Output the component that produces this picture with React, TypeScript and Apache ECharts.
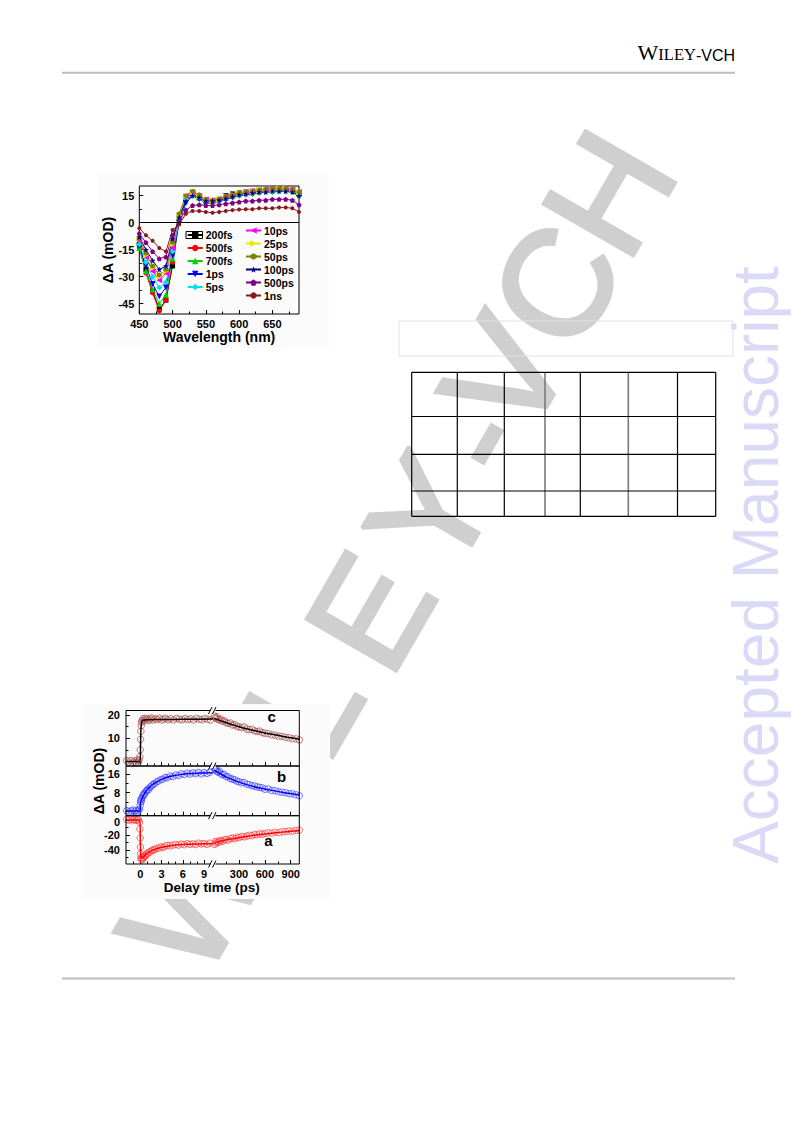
import React, { useEffect, useRef } from 'react';
import * as echarts from 'echarts';

const FONT = 'Liberation Sans';

// ---------- Figure (top): transient absorption spectra ----------
const wavelengths = [450, 460, 470, 480, 490, 500, 510, 520, 530, 540, 550, 560, 570, 580, 590, 600, 610, 620, 630, 640, 650, 660, 670, 680, 690];
const spectraNames = ['200fs', '500fs', '700fs', '1ps', '5ps', '10ps', '25ps', '50ps', '100ps', '500ps', '1ns'];
const d200fs = [-12, -26, -38, -48, -43, -24, 2, 14, 16, 14, 12, 12, 13, 15, 16, 16.5, 17, 17.5, 18, 18, 18.5, 18.5, 18.5, 18, 16];
const d500fs = [-14, -28, -39, -49, -43, -22, 4, 14, 17, 15, 13, 12.5, 13, 14.5, 15.5, 16.5, 17, 17.5, 18, 18.5, 18.5, 19, 19, 18.5, 16.5];
const d700fs = [-14, -27, -37, -45, -40, -20, 3, 14, 16, 14, 12, 12, 13, 14, 15, 16, 16.5, 17, 17.5, 18, 18, 18.5, 18.5, 18, 16];
const d1ps = [-13, -24, -34, -41, -36, -18, 0, 11, 15, 13, 11, 11, 12, 13, 14, 15, 15.5, 16, 16.5, 17, 17, 17.5, 17.5, 17, 15];
const d5ps = [-12, -22, -30, -36, -33, -16, 1, 13, 15.5, 14, 12, 12, 12.5, 14, 15, 15.5, 16, 16.5, 17, 17.5, 17.5, 18, 18, 17.5, 16];
const d10ps = [-10, -19, -27, -32, -28, -14, 4, 15, 17, 15, 13, 12.5, 13, 14.5, 15.5, 16.5, 17, 17.5, 18, 18.5, 19, 19, 19, 18.5, 17];
const d25ps = [-9, -18, -25, -30, -27, -12, 4, 15, 17, 15, 13, 12.5, 13, 14.5, 15.5, 16.5, 17, 17.5, 18, 18.5, 18.5, 19, 19, 18.5, 17];
const d50ps = [-9, -17, -24, -29, -26, -11, 5, 15, 17.5, 15.5, 13, 12.5, 13, 14.5, 15.5, 16.5, 17, 17.5, 18, 18.5, 19, 19, 19, 18.5, 17];
const d100ps = [-8, -15, -21, -26, -24, -9, 3, 12, 15, 14, 12, 12, 12.5, 13.5, 14.5, 15.5, 16, 16.5, 17, 17, 17.5, 17.5, 17.5, 17, 15];
const d500ps = [-6, -11, -16, -20, -19, -7, 1, 7, 9.5, 10, 9.5, 9.5, 10, 10.5, 11, 11.5, 12, 12, 12.5, 12.5, 13, 13, 13, 12.5, 10];
const d1ns = [-3, -7, -10, -14, -16, -4, -1, 5, 6.5, 6.5, 6, 5.5, 6, 6.5, 7, 7.3, 7.5, 7.5, 8, 8, 8, 8.5, 8.5, 8, 6];
const spectraValues = [d200fs, d500fs, d700fs, d1ps, d5ps, d10ps, d25ps, d50ps, d100ps, d500ps, d1ns];

const specXTicks = [450, 500, 550, 600, 650];
const specXMinor = [475, 525, 575, 625, 675];
const specYTicks = [-45, -30, -15, 0, 15];
const specYMinor = [-37.5, -22.5, -7.5, 7.5];

// ---------- Figure (bottom): kinetics ----------
const leftTicks = [0, 3, 6, 9];
const leftMinor = [-1, 1, 2, 4, 5, 7, 8, 10];
const rightTicks = [300, 600, 900];
const rightMinor = [150, 450, 750];
const cTicks = [0, 10, 20];
const cMinor = [5, 15];
const bTicks = [0, 8, 16];
const bMinor = [4, 12];
const aTicks = [-40, -20, 0];
const aMinor = [-50, -30, -10];

const cLeftPts = [[-1.9, 0.3], [-1.6, -0.2], [-1.3, 0.4], [-1.0, -0.4], [-0.8, 0.2], [-0.6, -0.6], [-0.4, 0.5], [-0.25, -0.3], [-0.15, 0.6], [-0.05, 2], [0, 5], [0.05, 9.5], [0.1, 13], [0.15, 15.5], [0.2, 17], [0.3, 17.8], [0.4, 18.4], [0.5, 17.5], [0.65, 18.6], [0.8, 17.9], [1.0, 18.5], [1.2, 17.7], [1.4, 18.3], [1.6, 18.8], [1.8, 17.9], [2.1, 18.4], [2.4, 18.1], [2.7, 18.7], [3.0, 17.9], [3.3, 18.3], [3.6, 18.6], [3.9, 18.0], [4.3, 18.4], [4.7, 17.9], [5.1, 18.6], [5.5, 18.2], [5.9, 18.0], [6.3, 18.5], [6.7, 18.1], [7.1, 18.4], [7.5, 17.9], [7.9, 18.6], [8.3, 18.2], [8.7, 18.0], [9.1, 18.5], [9.5, 18.2], [9.9, 17.9]];
const cLeftFit = [[-2, 0], [-0.02, 0], [0.05, 8], [0.12, 15], [0.25, 17.6], [0.5, 17.9], [1, 18], [3, 18.1], [6, 18.2], [10.2, 18.3]];
const cRightPts = [[15, 19.6], [25, 19.0], [35, 18.5], [45, 19.2], [60, 18.2], [75, 17.8], [90, 18.3], [110, 17.3], [130, 17.6], [150, 16.8], [175, 16.4], [200, 16.6], [225, 15.7], [250, 15.9], [275, 15.2], [300, 14.9], [330, 14.6], [360, 14.9], [390, 14.0], [420, 13.7], [450, 13.9], [480, 13.2], [510, 12.9], [540, 13.1], [570, 12.4], [600, 12.2], [640, 12.0], [680, 11.5], [720, 11.3], [760, 10.9], [800, 10.8], [840, 10.4], [880, 10.2], [920, 9.8], [960, 9.7], [1000, 9.3]];
const cRightFit = [[10, 18.6], [50, 18.1], [100, 17.4], [200, 16.1], [300, 15.0], [400, 14.0], [500, 13.1], [600, 12.3], [700, 11.6], [800, 10.9], [900, 10.2], [1000, 9.6]];

const bLeftPts = [[-1.9, 0.2], [-1.6, -0.3], [-1.3, 0.1], [-1.0, 0.4], [-0.8, -0.2], [-0.6, 0.3], [-0.4, -0.4], [-0.25, 0.2], [-0.1, 0.8], [0, 2.5], [0.05, 4], [0.1, 5], [0.15, 4.2], [0.2, 5.5], [0.3, 6], [0.4, 6.8], [0.5, 7.5], [0.6, 7.2], [0.75, 8.4], [0.9, 8.9], [1.05, 9.6], [1.2, 9.3], [1.4, 10.4], [1.6, 10.9], [1.8, 11.6], [2.0, 11.9], [2.3, 12.7], [2.6, 13.1], [2.9, 13.7], [3.2, 13.9], [3.5, 14.6], [3.8, 14.5], [4.2, 15.2], [4.6, 15.0], [5.0, 15.7], [5.4, 15.5], [5.8, 16.2], [6.2, 15.9], [6.6, 16.5], [7.0, 16.1], [7.4, 16.6], [7.8, 16.3], [8.2, 16.8], [8.6, 16.2], [9.0, 16.7], [9.4, 16.4], [9.8, 16.9]];
const bLeftFit = [[-2, 0], [-0.02, 0], [0.03, 3.5], [0.2, 5.2], [0.5, 7.2], [1, 9.4], [1.5, 10.9], [2, 12.1], [3, 13.8], [4, 14.9], [5, 15.6], [6, 16], [7, 16.3], [8, 16.5], [9, 16.6], [10.2, 16.7]];
const bRightPts = [[15, 18.5], [25, 17.8], [35, 18.2], [45, 17.2], [60, 16.9], [75, 17.3], [90, 16.2], [110, 15.8], [130, 15.9], [150, 15.0], [175, 14.9], [200, 14.1], [225, 13.9], [250, 13.6], [275, 13.0], [300, 12.8], [330, 12.3], [360, 12.4], [390, 11.7], [420, 11.5], [450, 11.0], [480, 10.9], [510, 10.5], [540, 10.3], [570, 10.1], [600, 9.5], [640, 9.6], [680, 9.0], [720, 8.9], [760, 8.4], [800, 8.2], [840, 8.0], [880, 7.6], [920, 7.5], [960, 7.1], [1000, 6.7]];
const bRightFit = [[10, 17.8], [50, 17], [100, 15.9], [150, 14.9], [200, 14.1], [300, 12.6], [400, 11.4], [500, 10.4], [600, 9.6], [700, 8.9], [800, 8.2], [900, 7.6], [1000, 7.0]];

const aLeftPts = [[-1.9, 0.6], [-1.6, -0.2], [-1.3, 0.4], [-1.0, 0.1], [-0.8, 0.7], [-0.6, -0.3], [-0.4, 0.5], [-0.25, 0.2], [-0.1, -3], [-0.05, -12], [0, -24], [0.03, -36], [0.06, -45], [0.1, -50], [0.15, -52.5], [0.2, -51], [0.3, -53], [0.4, -49.5], [0.5, -50.5], [0.6, -47.5], [0.75, -48], [0.9, -45], [1.05, -45.5], [1.2, -43], [1.4, -42.5], [1.6, -41], [1.8, -39.5], [2.0, -40], [2.3, -38], [2.6, -37.5], [2.9, -36], [3.2, -36.5], [3.5, -35], [3.8, -34], [4.2, -34.5], [4.6, -33.5], [5.0, -32.8], [5.4, -33.5], [5.8, -32], [6.2, -33], [6.6, -31.5], [7.0, -32.5], [7.4, -31.8], [7.8, -32.8], [8.2, -31], [8.6, -32], [9.0, -31.5], [9.4, -32.5], [9.8, -31]];
const aLeftFit = [[-2, 0], [-0.05, 0], [0.02, -30], [0.08, -48], [0.15, -51.5], [0.3, -50.5], [0.5, -48.5], [0.75, -46.5], [1, -44.5], [1.5, -41.5], [2, -39.3], [3, -36.4], [4, -34.6], [5, -33.5], [6, -32.8], [7, -32.3], [8, -32], [9, -31.8], [10.2, -31.6]];
const aRightPts = [[15, -32.5], [25, -29], [35, -31], [45, -28.5], [60, -30], [75, -28], [90, -27.5], [110, -28.5], [130, -26.5], [150, -26], [175, -27], [200, -25], [225, -24], [250, -25], [275, -23], [300, -23.5], [330, -22], [360, -22.5], [390, -21.5], [420, -20.5], [450, -21], [480, -19.5], [510, -19.8], [540, -18.5], [570, -19], [600, -18], [640, -17.2], [680, -17.5], [720, -16.5], [760, -16.8], [800, -15.8], [840, -15.5], [880, -14.7], [920, -15], [960, -14], [1000, -13.5]];
const aRightFit = [[10, -31], [50, -29.5], [100, -28], [200, -25.5], [300, -23.5], [400, -21.6], [500, -20], [600, -18.6], [700, -17.3], [800, -16.2], [900, -15.1], [1000, -14.1]];

// ---------- styles ----------
const spectraColors = ['#000000', '#ff0000', '#00d000', '#0000ff', '#00e0f0', '#ff00ff', '#e8e800', '#808000', '#000080', '#800080', '#8b1a1a'];
const spectraSymbols = ['rect', 'circle', 'triangle', 'triangle', 'diamond', 'triangle', 'triangle',
  'path://M5,0 L9.33,2.5 L9.33,7.5 L5,10 L0.67,7.5 L0.67,2.5 Z',
  'path://M5,0 L6.18,3.38 L9.76,3.45 L6.9,5.62 L7.94,9.05 L5,7 L2.06,9.05 L3.1,5.62 L0.24,3.45 L3.82,3.38 Z',
  'path://M5,0 L9.76,3.45 L7.94,9.05 L2.06,9.05 L0.24,3.45 Z', 'circle'];
const spectraRot = [0, 0, 0, 180, 0, 90, -90, 0, 0, 0, 0];
const spectraSizes = [5, 5, 6, 6, 6, 6, 6, 5, 6, 5, 4];

const lbl = (size: number) => ({ fontFamily: FONT, fontWeight: 'bold', fontSize: size, color: '#000' });

function buildOption() {
  const grid: any[] = [];
  const xAxis: any[] = [];
  const yAxis: any[] = [];
  const series: any[] = [];
  const graphic: any[] = [];

  const mkAxis = (o: any) => ({
    type: 'value', z: 3, splitLine: { show: false }, axisLine: { show: false, onZero: false },
    ...o,
  });

  // ---------- top chart ----------
  grid.push({ left: 139.3, top: 186, width: 159.7, height: 128, show: true, borderColor: '#000', borderWidth: 1, backgroundColor: 'transparent', z: 3 });
  xAxis.push(mkAxis({
    gridIndex: 0, min: 450, max: 690, position: 'bottom',
    axisTick: { show: true, inside: true, length: 4, customValues: specXTicks, lineStyle: { color: '#000' } },
    axisLabel: { show: true, margin: 4.5, customValues: specXTicks, ...lbl(11) },
    name: 'Wavelength (nm)', nameLocation: 'middle', nameGap: 15, nameTextStyle: lbl(14),
  }));
  xAxis.push(mkAxis({
    gridIndex: 0, min: 450, max: 690, position: 'bottom',
    axisTick: { show: true, inside: true, length: 2.5, customValues: specXMinor, lineStyle: { color: '#000' } },
    axisLabel: { show: false },
  }));
  yAxis.push(mkAxis({
    gridIndex: 0, min: -50.7, max: 20.4, position: 'left',
    axisTick: { show: true, inside: true, length: 4, customValues: specYTicks, lineStyle: { color: '#000' } },
    axisLabel: { show: true, margin: 5, customValues: specYTicks, ...lbl(11) },
    name: 'ΔA (mOD)', nameLocation: 'middle', nameGap: 24, nameTextStyle: lbl(14),
  }));
  yAxis.push(mkAxis({
    gridIndex: 0, min: -50.7, max: 20.4, position: 'left',
    axisTick: { show: true, inside: true, length: 2.5, customValues: specYMinor, lineStyle: { color: '#000' } },
    axisLabel: { show: false },
  }));

  spectraNames.forEach((name, i) => {
    const s: any = {
      type: 'line', name, xAxisIndex: 0, yAxisIndex: 0, z: 4,
      data: wavelengths.map((w, k) => [w, spectraValues[i][k]]),
      symbol: spectraSymbols[i], symbolSize: spectraSizes[i], symbolRotate: spectraRot[i],
      showSymbol: true,
      lineStyle: { color: spectraColors[i], width: 1 },
      itemStyle: { color: spectraColors[i] },
      emphasis: { disabled: true },
    };
    if (i === 0) {
      s.markLine = {
        silent: true, symbol: ['none', 'none'], label: { show: false },
        lineStyle: { color: '#000', width: 1, type: 'solid' },
        data: [{ yAxis: 0 }],
      };
    }
    series.push(s);
  });

  const legendBase = {
    orient: 'vertical', padding: 0, itemGap: 0, itemWidth: 15, itemHeight: 8, selectedMode: false, z: 5,
    textStyle: { ...lbl(10.5), lineHeight: 13, padding: [0, 0, 0, -2] },
  };
  const legend = [
    { ...legendBase, left: 186.7, top: 228.5, data: spectraNames.slice(0, 5) },
    { ...legendBase, left: 245, top: 224, data: spectraNames.slice(5) },
  ];

  // ---------- bottom chart ----------
  const panels = [
    { top: 710.5, bottom: 766, min: -2, max: 22, major: cTicks, minor: cMinor, lp: cLeftPts, lf: cLeftFit, rp: cRightPts, rf: cRightFit, circ: '#a84444', line: '#000000', zeroPad: [0, 0, 0, 0] },
    { top: 766, bottom: 815.7, min: -2, max: 19.6, major: bTicks, minor: bMinor, lp: bLeftPts, lf: bLeftFit, rp: bRightPts, rf: bRightFit, circ: '#4040ff', line: '#0000ff', zeroPad: [0, 0, 4, 0] },
    { top: 815.7, bottom: 864, min: -58.7, max: 5.7, major: aTicks, minor: aMinor, lp: aLeftPts, lf: aLeftFit, rp: aRightPts, rf: aRightFit, circ: '#ff3a3a', line: '#ff0000', zeroPad: [4, 0, 0, 0] },
  ];
  const sections = [
    { left: 126, width: 86.7, min: -2, max: 10.2, major: leftTicks, minor: leftMinor },
    { left: 214, width: 85.3, min: 10, max: 1000, major: rightTicks, minor: rightMinor },
  ];
  panels.forEach((p, pi) => {
    sections.forEach((sec, si) => {
      const gi = grid.length;
      grid.push({ left: sec.left, top: p.top, width: sec.width, height: p.bottom - p.top, show: false, z: 3 });
      const isBottom = pi === 2;
      xAxis.push(mkAxis({
        gridIndex: gi, min: sec.min, max: sec.max, position: 'bottom',
        axisTick: { show: true, inside: true, length: 4, customValues: sec.major, lineStyle: { color: '#000' } },
        axisLabel: { show: isBottom, margin: 4.5, customValues: sec.major, ...lbl(11) },
      }));
      const xi = xAxis.length - 1;
      xAxis.push(mkAxis({
        gridIndex: gi, min: sec.min, max: sec.max, position: 'bottom',
        axisTick: { show: true, inside: true, length: 2.5, customValues: sec.minor, lineStyle: { color: '#000' } },
        axisLabel: { show: false },
      }));
      yAxis.push(mkAxis({
        gridIndex: gi, min: p.min, max: p.max, position: 'left',
        axisTick: { show: si === 0, inside: true, length: 4, customValues: p.major, lineStyle: { color: '#000' } },
        axisLabel: {
          show: si === 0, margin: 6, customValues: p.major, ...lbl(11),
          formatter: (v: number) => (v === 0 ? '{z|0}' : String(v)),
          rich: { z: { ...lbl(11), padding: p.zeroPad } },
        },
      }));
      const yi = yAxis.length - 1;
      yAxis.push(mkAxis({
        gridIndex: gi, min: p.min, max: p.max, position: 'left',
        axisTick: { show: si === 0, inside: true, length: 2.5, customValues: p.minor, lineStyle: { color: '#000' } },
        axisLabel: { show: false },
      }));
      series.push({
        type: 'scatter', xAxisIndex: xi, yAxisIndex: yi, z: 4, silent: true,
        data: si === 0 ? p.lp : p.rp,
        symbol: 'circle', symbolSize: 6.5,
        itemStyle: { color: 'rgba(0,0,0,0)', borderColor: p.circ, borderWidth: 0.9 },
      });
      series.push({
        type: 'line', xAxisIndex: xi, yAxisIndex: yi, z: 5, silent: true,
        data: si === 0 ? p.lf : p.rf,
        showSymbol: false, symbol: 'none', smooth: 0.3,
        lineStyle: { color: p.line, width: 1.5 },
      });
    });
  });

  // ---------- page decorations (graphic) ----------
  // header
  graphic.push({
    type: 'text', x: 735, y: 63, z: 2,
    style: {
      text: '{w|W}{s|ILEY}{v|-VCH}', textAlign: 'right', textVerticalAlign: 'bottom', fill: '#000',
      rich: {
        w: { fontFamily: 'Liberation Serif', fontSize: 22, lineHeight: 22, verticalAlign: 'bottom', fill: '#000' },
        s: { fontFamily: 'Liberation Serif', fontSize: 16.5, lineHeight: 22, verticalAlign: 'bottom', fill: '#000' },
        v: { fontFamily: FONT, fontSize: 16, lineHeight: 22, verticalAlign: 'bottom', fill: '#000' },
      },
    },
  });
  graphic.push({ type: 'line', z: 2, shape: { x1: 62, y1: 72.7, x2: 735, y2: 72.7 }, style: { stroke: '#bdbdbd', lineWidth: 2 } });
  graphic.push({ type: 'line', z: 2, shape: { x1: 62, y1: 978.5, x2: 735, y2: 978.5 }, style: { stroke: '#bdbdbd', lineWidth: 2 } });

  // diagonal watermark
  const wm: [string, number, number][] = [
    ['W', 193, 897], ['I', 265, 766], ['L', 302, 706], ['E', 370, 612], ['Y', 430, 513],
    ['-', 477, 438], ['V', 505, 375], ['C', 556, 285], ['H', 609, 193],
  ];
  wm.forEach(([ch, x, y]) => {
    graphic.push({
      type: 'text', x, y, rotation: Math.PI / 3, z: 0,
      style: {
        text: ch, fontFamily: FONT, fontSize: 150, fill: '#cfcfcf', stroke: '#cfcfcf', lineWidth: 4,
        textAlign: 'center', textVerticalAlign: 'middle',
      },
    });
  });
  // vertical watermark
  graphic.push({
    type: 'text', x: 756, y: 565, rotation: Math.PI / 2, z: 0,
    style: { text: 'Accepted Manuscript', fontFamily: FONT, fontSize: 64, fill: '#dadaf7', textAlign: 'center', textVerticalAlign: 'middle' },
  });

  // chart backgrounds (cover watermark)
  graphic.push({ type: 'rect', z: 1, shape: { x: 98, y: 173, width: 231, height: 175 }, style: { fill: '#fbfbfb' } });
  graphic.push({ type: 'rect', z: 1, shape: { x: 83, y: 704, width: 247, height: 195 }, style: { fill: '#fbfbfb' } });

  // empty caption box + table
  graphic.push({ type: 'rect', z: 2, shape: { x: 399, y: 321, width: 334, height: 35 }, style: { fill: 'none', stroke: '#e2e2e2', lineWidth: 1 } });
  const colX = [411.7, 457.3, 504.3, 545, 580.3, 628.3, 677.5, 715.7];
  const rowY = [372.3, 416.5, 454.3, 491, 516.3];
  colX.forEach((x, i) => {
    const gray = i === 3 || i === 5;
    graphic.push({ type: 'line', z: 2, shape: { x1: x, y1: rowY[0], x2: x, y2: rowY[rowY.length - 1] }, style: { stroke: gray ? '#7a7a7a' : '#000', lineWidth: gray ? 1.6 : 1.2 } });
  });
  rowY.forEach((y) => {
    graphic.push({ type: 'line', z: 2, shape: { x1: colX[0], y1: y, x2: colX[colX.length - 1], y2: y }, style: { stroke: '#000', lineWidth: 1.2 } });
  });

  // legend frame around 200fs
  graphic.push({ type: 'rect', z: 6, shape: { x: 186, y: 231.5, width: 16.5, height: 7 }, style: { fill: 'none', stroke: '#000', lineWidth: 1 } });

  // bottom chart frames
  panels.forEach((p) => {
    graphic.push({ type: 'rect', z: 6, shape: { x: 126, y: p.top, width: 173.3, height: p.bottom - p.top }, style: { fill: 'none', stroke: '#000', lineWidth: 1 } });
  });
  // axis breaks
  [710.5, 766, 815.7, 864].forEach((y) => {
    graphic.push({ type: 'rect', z: 7, shape: { x: 210.5, y: y - 2, width: 5, height: 4 }, style: { fill: '#fbfbfb' } });
    graphic.push({ type: 'line', z: 8, shape: { x1: 208.5, y1: y + 3.5, x2: 212, y2: y - 3.5 }, style: { stroke: '#000', lineWidth: 1 } });
    graphic.push({ type: 'line', z: 8, shape: { x1: 212.5, y1: y + 3.5, x2: 216, y2: y - 3.5 }, style: { stroke: '#000', lineWidth: 1 } });
  });
  // panel letters
  [['c', 271.7, 716.3], ['b', 281.7, 776.5], ['a', 268.3, 840.4]].forEach(([t, x, y]) => {
    graphic.push({ type: 'text', x, y, z: 6, style: { text: t, fontFamily: FONT, fontWeight: 'bold', fontSize: 15, fill: '#000', textAlign: 'center', textVerticalAlign: 'middle' } });
  });
  graphic.push({ type: 'text', x: 211.7, y: 887.5, z: 6, style: { text: 'Delay time (ps)', fontFamily: FONT, fontWeight: 'bold', fontSize: 13.5, fill: '#000', textAlign: 'center', textVerticalAlign: 'middle' } });
  graphic.push({ type: 'text', x: 99.3, y: 781, rotation: Math.PI / 2, z: 6, style: { text: 'ΔA (mOD)', fontFamily: FONT, fontWeight: 'bold', fontSize: 14, fill: '#000', textAlign: 'center', textVerticalAlign: 'middle' } });

  return {
    animation: false,
    backgroundColor: '#ffffff',
    grid, xAxis, yAxis, series, legend,
    graphic: { elements: graphic },
  };
}

export default function App() {
  const ref = useRef<HTMLDivElement>(null);
  useEffect(() => {
    const chart = echarts.init(ref.current as HTMLDivElement, null, { renderer: 'svg' });
    chart.setOption(buildOption() as any);
    return () => chart.dispose();
  }, []);
  return (
    <div
      ref={ref}
      style={{ position: 'absolute', left: 0, top: 0, width: 793, height: 1121, background: '#ffffff' }}
    />
  );
}
